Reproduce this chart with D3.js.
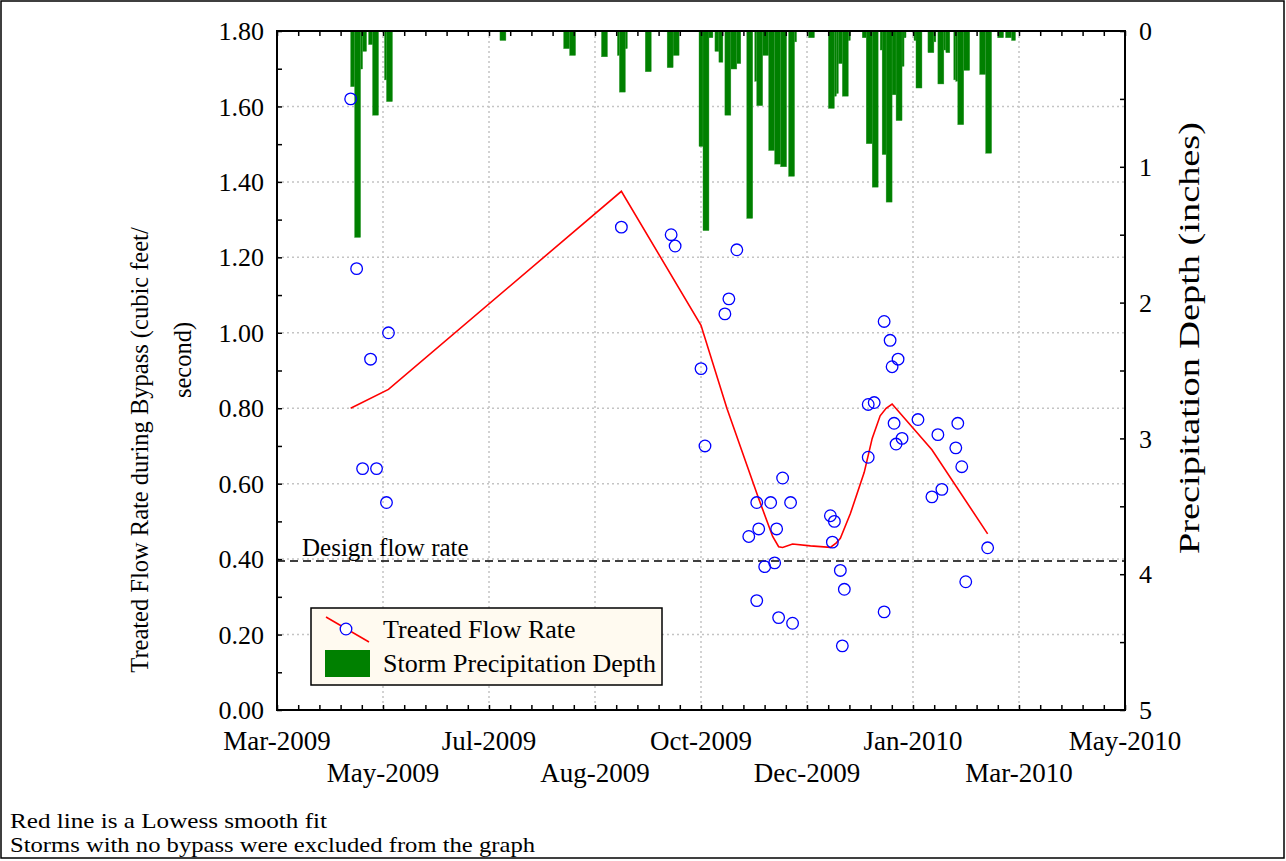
<!DOCTYPE html>
<html><head><meta charset="utf-8">
<script src="https://cdn.jsdelivr.net/npm/d3@7"></script>
<style>
body{margin:0;background:#fff}
text{font-family:"Liberation Serif","Times New Roman",serif;fill:#000}
</style>
</head><body>
<svg id="c" width="1286" height="861"></svg>
<script>
// ---------- data ----------
const xDomain = ["2009-03-17","2010-05-17"];
const xTickLabels = ["Mar-2009","May-2009","Jul-2009","Aug-2009","Oct-2009","Dec-2009","Jan-2010","Mar-2010","May-2010"];
const leftTickLabels = ["0.00","0.20","0.40","0.60","0.80","1.00","1.20","1.40","1.60","1.80"];
const rightTickLabels = ["0","1","2","3","4","5"];

const flowDates = ["2009-04-23","2009-04-26","2009-04-29","2009-05-03","2009-05-06","2009-05-11","2009-05-12",
 "2009-09-06","2009-10-01","2009-10-03","2009-10-16","2009-10-18","2009-10-28","2009-10-30","2009-11-03",
 "2009-11-09","2009-11-13","2009-11-13","2009-11-14","2009-11-17","2009-11-20","2009-11-22","2009-11-23",
 "2009-11-24","2009-11-26","2009-11-30","2009-12-01","2009-12-20","2009-12-21","2009-12-22","2009-12-25",
 "2009-12-26","2009-12-27","2010-01-08","2010-01-08","2010-01-11","2010-01-16","2010-01-16","2010-01-19",
 "2010-01-20","2010-01-21","2010-01-22","2010-01-23","2010-01-25","2010-02-02","2010-02-09","2010-02-12",
 "2010-02-14","2010-02-21","2010-02-22","2010-02-24","2010-02-26","2010-03-09"];
const flowValues = [1.62,1.17,0.64,0.93,0.64,0.55,1.00,
 1.28,1.26,1.23,0.905,0.70,1.05,1.09,1.22,
 0.46,0.55,0.29,0.48,0.38,0.55,0.39,0.48,
 0.245,0.615,0.55,0.23,0.515,0.445,0.50,0.37,
 0.17,0.32,0.67,0.81,0.815,0.26,1.03,0.98,
 0.91,0.76,0.705,0.93,0.72,0.77,0.565,0.73,
 0.585,0.695,0.76,0.645,0.34,0.43];

const lowessDates = ["2009-04-23","2009-05-12","2009-09-06","2009-10-16","2009-10-29","2009-11-14","2009-11-21",
 "2009-11-24","2009-11-26","2009-12-01","2009-12-10","2009-12-20","2009-12-23","2009-12-25","2009-12-30",
 "2010-01-06","2010-01-10","2010-01-14","2010-01-17","2010-01-20","2010-02-09","2010-03-09"];
const lowessValues = [0.80,0.85,1.375,1.02,0.80,0.56,0.46,
 0.433,0.431,0.44,0.435,0.431,0.443,0.455,0.52,
 0.63,0.72,0.78,0.80,0.811,0.69,0.467];

const stormStart = ["2009-04-23","2009-04-25","2009-04-28","2009-04-29","2009-05-02","2009-05-04","2009-05-10","2009-05-11",
 "2009-07-07","2009-08-08","2009-08-11","2009-08-27","2009-09-04","2009-09-05","2009-09-08","2009-09-18",
 "2009-09-29","2009-10-02","2009-10-15","2009-10-17","2009-10-20","2009-10-23","2009-10-25","2009-10-28",
 "2009-10-31","2009-11-03","2009-11-08","2009-11-12","2009-11-13","2009-11-16","2009-11-19","2009-11-22",
 "2009-11-25","2009-11-29","2009-12-02","2009-12-09","2009-12-19","2009-12-22","2009-12-23","2009-12-24",
 "2009-12-26","2009-12-29","2010-01-05","2010-01-07","2010-01-10","2010-01-14","2010-01-15","2010-01-17",
 "2010-01-20","2010-01-22","2010-01-25","2010-01-26","2010-01-31","2010-02-01","2010-02-07","2010-02-10",
 "2010-02-12","2010-02-15","2010-02-16","2010-02-20","2010-02-21","2010-02-22","2010-02-25","2010-03-05",
 "2010-03-08","2010-03-14","2010-03-18","2010-03-21"];
const stormDays = [2,3,1,2,2,3,1,3,
 3,3,3,3,1,3,1,3,
 3,3,2,3,2,2,2,3,
 3,2,3,1,3,3,3,3,
 3,3,1,3,3,1,1,2,
 3,1,2,3,3,1,2,3,
 2,3,1,1,1,3,3,1,
 3,1,2,1,1,3,3,3,
 3,3,3,2];
const stormDepth = [0.41,1.52,0.28,0.15,0.10,0.62,0.36,0.52,
 0.07,0.13,0.18,0.19,0.18,0.45,0.13,0.30,
 0.27,0.18,0.85,1.47,0.05,0.15,0.23,0.62,
 0.28,0.24,1.38,0.37,0.55,0.18,0.88,0.98,
 1.00,1.07,0.08,0.05,0.57,0.48,0.46,0.24,
 0.48,0.07,0.05,0.83,1.15,0.14,0.91,1.26,
 0.47,0.66,0.26,0.05,0.07,0.42,0.16,0.08,
 0.39,0.14,0.16,0.36,0.37,0.69,0.29,0.32,
 0.90,0.05,0.05,0.07];

const designFlow = 0.395;
const legendLabels = ["Treated Flow Rate","Storm Precipitation Depth"];
const notes = ["Red line is a Lowess smooth fit","Storms with no bypass were excluded from the graph"];

// ---------- chart ----------
const svg = d3.select("#c");
const X0=277, X1=1125, Y0=31, Y1=710;
const parse = d3.utcParse("%Y-%m-%d");
const t0 = parse(xDomain[0]), t1 = parse(xDomain[1]);
const x = d3.scaleUtc().domain([t0,t1]).range([X0,X1]);
const y = d3.scaleLinear().domain([0,1.8]).range([Y1,Y0]);
const yR = d3.scaleLinear().domain([0,5]).range([Y0,Y1]);

const majorX = d3.range(xTickLabels.length).map(i => new Date(+t0 + i*(t1-t0)/(xTickLabels.length-1)));
const minorX = d3.range(41).map(i => new Date(+t0 + i*(t1-t0)/40));
const majorY = leftTickLabels.map(Number);
const minorY = d3.range(19).map(i => i*0.1);
const minorYR = d3.range(11).map(i => i*0.5);

// outer border
svg.append("rect").attr("x",1).attr("y",1).attr("width",1283).attr("height",857)
  .attr("fill","none").attr("stroke","#000").attr("stroke-width",1.5);

// grid
const grid = svg.append("g").attr("stroke","#c4c4c4").attr("stroke-width",1.5).attr("stroke-dasharray","2,3");
grid.selectAll("line.v").data(majorX.slice(1,-1)).join("line")
  .attr("x1",d=>x(d)).attr("x2",d=>x(d)).attr("y1",Y0).attr("y2",Y1);
grid.selectAll("line.h").data(majorY.slice(1,-1)).join("line")
  .attr("x1",X0).attr("x2",X1).attr("y1",d=>y(d)).attr("y2",d=>y(d));

// storm bars
const storms = stormStart.map((s,i)=>({s:parse(s), e:d3.utcDay.offset(parse(s), stormDays[i]), v:stormDepth[i]}));
svg.append("g").selectAll("rect").data(storms).join("rect")
  .attr("x",d=>x(d.s)).attr("width",d=>x(d.e)-x(d.s))
  .attr("y",yR(0)).attr("height",d=>yR(d.v)-yR(0))
  .attr("fill","#008000").attr("stroke","#2f9a2f").attr("stroke-width",0.4);

// design flow line
svg.append("line").attr("x1",X0).attr("x2",X1).attr("y1",y(designFlow)).attr("y2",y(designFlow))
  .attr("stroke","#000").attr("stroke-width",1.5).attr("stroke-dasharray","8,5");
svg.append("text").attr("x",302).attr("y",y(designFlow)-5).attr("font-size",25).text("Design flow rate");

// lowess line
const lw = lowessDates.map((d,i)=>[parse(d), lowessValues[i]]);
svg.append("path").datum(lw).attr("fill","none").attr("stroke","#ff0000").attr("stroke-width",1.6)
  .attr("d", d3.line().x(d=>x(d[0])).y(d=>y(d[1])));

// points
const pts = flowDates.map((d,i)=>[parse(d), flowValues[i]]);
svg.append("g").selectAll("circle").data(pts).join("circle")
  .attr("cx",d=>x(d[0])).attr("cy",d=>y(d[1])).attr("r",5.8)
  .attr("fill","none").attr("stroke","#0000ff").attr("stroke-width",1.3);

// frame
svg.append("rect").attr("x",X0).attr("y",Y0).attr("width",X1-X0).attr("height",Y1-Y0)
  .attr("fill","none").attr("stroke","#000").attr("stroke-width",2);

// ticks via axes (inside)
const tk = 5;
svg.append("g").attr("transform",`translate(0,${Y1})`)
  .call(d3.axisBottom(x).tickValues(minorX).tickSize(-tk).tickFormat(""))
  .call(g=>g.select(".domain").remove());
svg.append("g").attr("transform",`translate(0,${Y0})`)
  .call(d3.axisTop(x).tickValues(minorX).tickSize(-tk).tickFormat(""))
  .call(g=>g.select(".domain").remove());
svg.append("g").attr("transform",`translate(${X0},0)`)
  .call(d3.axisLeft(y).tickValues(minorY).tickSize(-tk).tickFormat(""))
  .call(g=>g.select(".domain").remove());
svg.append("g").attr("transform",`translate(${X1},0)`)
  .call(d3.axisRight(yR).tickValues(minorYR).tickSize(-tk).tickFormat(""))
  .call(g=>g.select(".domain").remove());
svg.selectAll(".tick line").attr("stroke","#000").attr("stroke-width",1.5);

// tick labels
svg.append("g").selectAll("text").data(majorY).join("text")
  .attr("x",X0-13).attr("y",d=>y(d)).attr("dy","0.35em").attr("text-anchor","end")
  .attr("font-size",26).text((d,i)=>leftTickLabels[i]);
svg.append("g").selectAll("text").data(rightTickLabels).join("text")
  .attr("x",X1+14).attr("y",d=>yR(+d)).attr("dy","0.35em").attr("text-anchor","start")
  .attr("font-size",26).text(d=>d);
svg.append("g").selectAll("text").data(majorX).join("text")
  .attr("x",d=>x(d)).attr("y",(d,i)=> i%2===0 ? 750 : 782).attr("text-anchor","middle")
  .attr("font-size",27).text((d,i)=>xTickLabels[i]);

// axis titles
svg.append("text").attr("transform","translate(148,450) rotate(-90)").attr("text-anchor","middle")
  .attr("font-size",24.5).text("Treated Flow Rate during Bypass (cubic feet/");
svg.append("text").attr("transform","translate(191,360) rotate(-90)").attr("text-anchor","middle")
  .attr("font-size",24.5).text("second)");
svg.append("text").attr("transform","translate(1199,338) rotate(-90)").attr("text-anchor","middle")
  .attr("font-size",29).attr("textLength",432).attr("lengthAdjust","spacingAndGlyphs")
  .text("Precipitation Depth (inches)");

// legend
const lg = svg.append("g");
lg.append("rect").attr("x",311).attr("y",608).attr("width",351).attr("height",77)
  .attr("fill","#fffaf0").attr("stroke","#000").attr("stroke-width",1.5);
lg.append("line").attr("x1",326).attr("y1",617).attr("x2",369).attr("y2",642)
  .attr("stroke","#ff0000").attr("stroke-width",1.5);
lg.append("circle").attr("cx",346).attr("cy",629).attr("r",5.8)
  .attr("fill","#fff").attr("stroke","#0000ff").attr("stroke-width",1.3);
lg.append("rect").attr("x",325).attr("y",650).attr("width",45).attr("height",27).attr("fill","#008000");
lg.selectAll("text").data(legendLabels).join("text")
  .attr("x",383).attr("y",(d,i)=>638+i*34).attr("font-size",26).text(d=>d);

// notes
const noteLen = [317, 525];
svg.append("g").selectAll("text").data(notes).join("text")
  .attr("x",10).attr("y",(d,i)=>828+i*24).attr("font-size",21)
  .attr("textLength",(d,i)=>noteLen[i]).attr("lengthAdjust","spacingAndGlyphs").text(d=>d);
</script>
</body></html>
